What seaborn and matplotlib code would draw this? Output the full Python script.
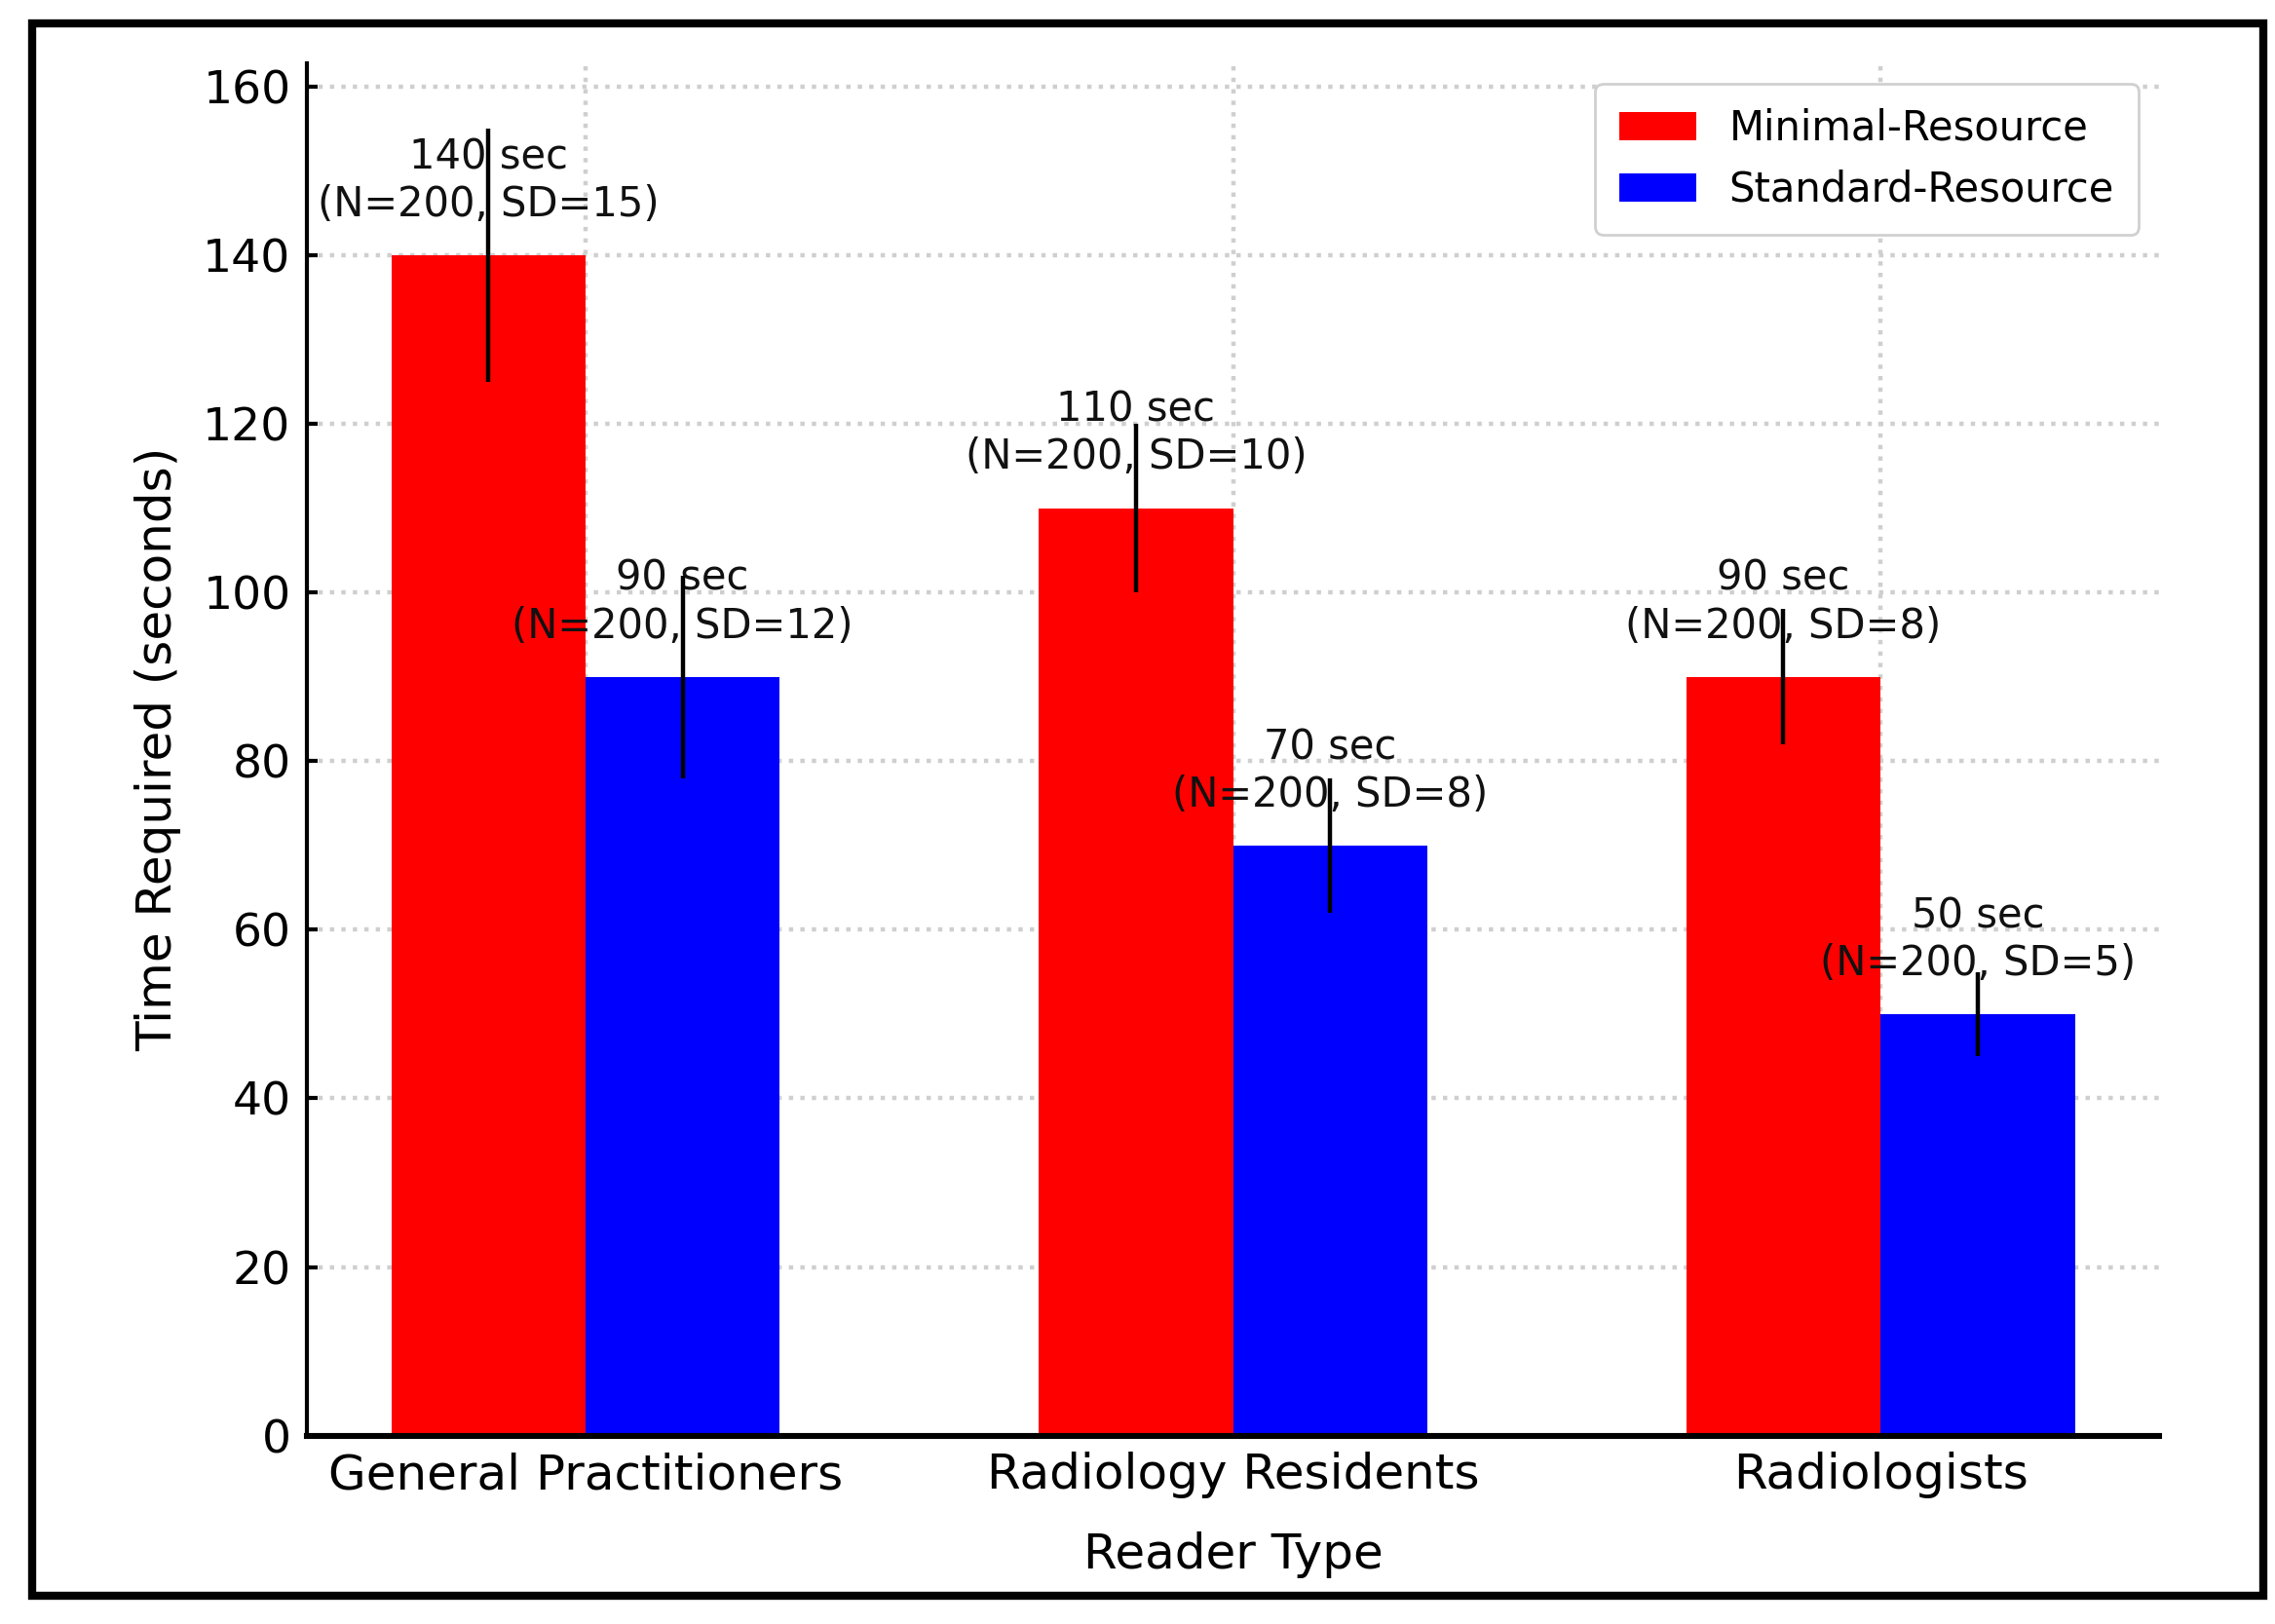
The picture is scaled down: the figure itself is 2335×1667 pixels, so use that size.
import pandas as pd
import matplotlib
matplotlib.use("Agg")
import matplotlib.pyplot as plt
import matplotlib.patches as mpatches
import seaborn as sns

# dados do grafico
reader_types = ['General Practitioners', 'Radiology Residents', 'Radiologists']
resource_levels = ['Minimal-Resource', 'Standard-Resource']
minimal_times = [140, 110, 90]
minimal_sd = [15, 10, 8]
standard_times = [90, 70, 50]
standard_sd = [12, 8, 5]
n_readers = 200

cores = {'Minimal-Resource': '#FF0000', 'Standard-Resource': '#0000FF'}


def montarDados():
    linhas = []
    for i, rt in enumerate(reader_types):
        linhas.append({'Reader Type': rt, 'Resource': 'Minimal-Resource',
                       'Time': minimal_times[i], 'SD': minimal_sd[i]})
        linhas.append({'Reader Type': rt, 'Resource': 'Standard-Resource',
                       'Time': standard_times[i], 'SD': standard_sd[i]})
    return pd.DataFrame(linhas)


def grafico(dataFrame):
    sns.set_style('ticks')
    plt.rcParams['font.family'] = ['DejaVu Sans']
    plt.rcParams['text.color'] = 'black'
    plt.rcParams['axes.labelcolor'] = 'black'
    plt.rcParams['xtick.color'] = 'black'
    plt.rcParams['ytick.color'] = 'black'
    fig = plt.figure(figsize=(11.675, 8.335), dpi=200)
    ax = fig.add_axes([0.135, 0.116, 0.814, 0.845])
    sns.barplot(data=dataFrame, x='Reader Type', y='Time', hue='Resource',
                order=reader_types, hue_order=resource_levels, palette=cores,
                saturation=1, errorbar=None, width=0.6, linewidth=0, ax=ax, zorder=2)

    # barras de erro e rotulos em cima de cada barra
    sds = [minimal_sd, standard_sd]
    containers_barras = list(ax.containers)
    for k, container in enumerate(containers_barras):
        for j, bar in enumerate(container):
            xc = bar.get_x() + bar.get_width() / 2
            h = bar.get_height()
            sd = sds[k][j]
            ax.errorbar(xc, h, yerr=sd, color='black', elinewidth=1.6, capsize=0, zorder=4)
            ax.text(xc, h + 3.6, f"{int(h)} sec\n(N={n_readers}, SD={sd})",
                    ha='center', va='bottom', fontsize=15, color='#111111', zorder=3)

    ax.set_xlim(-0.43, 2.43)
    ax.set_ylim(0, 162.75)
    ax.set_axisbelow(True)
    ax.grid(True, linestyle=':', color='#cfcfcf', linewidth=1.6)
    for s in ['top', 'right']:
        ax.spines[s].set_visible(False)
    ax.spines['left'].set_linewidth(1.5)
    ax.spines['bottom'].set_linewidth(2.2)
    ax.spines['left'].set_color('black')
    ax.spines['bottom'].set_color('black')
    ax.tick_params(axis='both', direction='in', length=4, width=1.5)
    ax.tick_params(axis='y', labelsize=17, pad=6)
    ax.tick_params(axis='x', labelsize=18, pad=6)
    ax.set_xlabel('Reader Type', fontsize=18, labelpad=12)
    ax.set_ylabel('Time Required (seconds)', fontsize=18, labelpad=8)

    ax.legend(loc='upper right', fontsize=15, frameon=True, edgecolor='#d0d0d0',
              framealpha=1, borderpad=0.6, handlelength=1.9)

    # moldura preta em volta da figura
    moldura = mpatches.Rectangle((0.014, 0.0174), 0.981, 0.968, transform=fig.transFigure,
                                 fill=False, edgecolor='black', linewidth=3)
    fig.patches.append(moldura)
    fig.savefig('out.png', dpi=200)


dataFrame = montarDados()
grafico(dataFrame)
